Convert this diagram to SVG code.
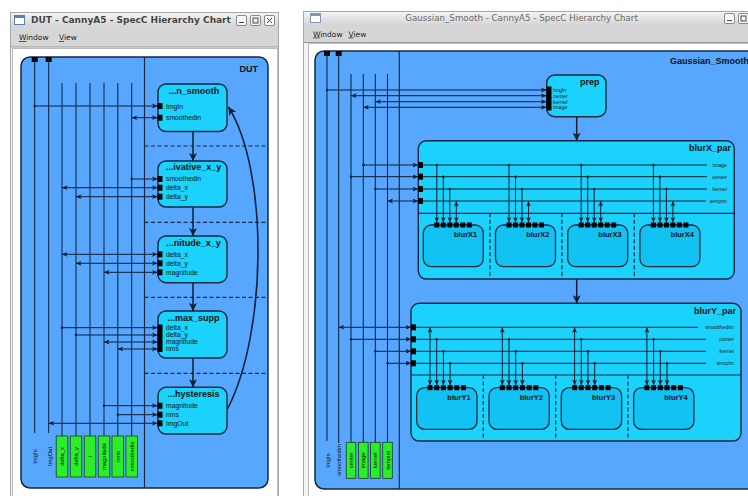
<svg xmlns="http://www.w3.org/2000/svg" width="748" height="496" viewBox="0 0 748 496">
<defs>
  <linearGradient id="tbar" x1="0" y1="0" x2="0" y2="1">
    <stop offset="0" stop-color="#f4f4f4"/>
    <stop offset="1" stop-color="#d4d4d4"/>
  </linearGradient>
  <marker id="ah" markerUnits="userSpaceOnUse" markerWidth="6" markerHeight="6" refX="5.5" refY="3" orient="auto-start-reverse">
    <path d="M0,0.6 L5.5,3 L0,5.4 L1.4,3 z" fill="#0e1e30"/>
  </marker>
  <marker id="dot" markerUnits="userSpaceOnUse" markerWidth="4" markerHeight="4" refX="2" refY="2">
    <circle cx="2" cy="2" r="1.2" fill="#0e1e30"/>
  </marker>
  <marker id="big" markerUnits="userSpaceOnUse" markerWidth="9" markerHeight="9" refX="8" refY="4.5" orient="auto">
    <path d="M0,0.5 L8,4.5 L0,8.5 L2,4.5 z" fill="#0e1e30"/>
  </marker>
</defs>
<style>
  .frame{fill:#f4f4f4;stroke:#a8a8a8}
  .menubar{fill:#d6d6d6}
  .content{fill:#ffffff;stroke:#bdbdbd}
  .btn{fill:#f8f8f8;stroke:#8a8a8a}
  .glyph{stroke:#444;stroke-width:1;fill:none}
  .ttlA{font-family:"DejaVu Sans",sans-serif;font-size:9px;font-weight:bold;fill:#454545}
  .ttlI{font-family:"DejaVu Sans",sans-serif;font-size:8.7px;fill:#6a6a6a}
  .menu{font-family:"DejaVu Sans",sans-serif;font-size:7.5px;fill:#222}
  .bh{fill:#57a6ff;stroke:#17283c;stroke-width:1.5}
  .bp{fill:#1ad2fb;stroke:#17283c;stroke-width:1.4}
  .bc{fill:#12c2f2;stroke:#17283c;stroke-width:1.3}
  .nm{font-family:"Liberation Sans",Arial,sans-serif;font-weight:bold;font-size:9px;fill:#111}
  .cn{font-family:"Liberation Sans",Arial,sans-serif;font-weight:bold;font-size:7.5px;fill:#111}
  .pl{font-family:"Liberation Sans",Arial,sans-serif;font-size:6.8px;fill:#111}
  .tl{font-family:"Liberation Sans",Arial,sans-serif;font-size:5.3px;fill:#222}
  .pt{fill:#000}
  .ln{stroke:#0e1e30;stroke-width:1;fill:none}
  .vline{stroke:#0e1e30;stroke-width:1;fill:none}
  .sep{stroke:#17283c;stroke-width:1.2;fill:none}
  .dash{stroke:#17283c;stroke-width:1.2;stroke-dasharray:4 2.5;fill:none}
  .flow{stroke:#0e1e30;stroke-width:1.5;fill:none;marker-end:url(#big)}
  .var{fill:#2aee2a;stroke:#1e3a1e;stroke-width:0.8}
  .vl{font-family:"Liberation Sans",Arial,sans-serif;font-size:5.8px;fill:#111}
  .ae{marker-end:url(#ah)}
  .as{marker-start:url(#ah)}
  .ds{marker-start:url(#dot)}
</style>

<!-- ===== Window 1: DUT hierarchy chart ===== -->
<g id="win-dut">
  <rect class="frame" x="10.5" y="12.5" width="268" height="484"/>
  <rect x="11" y="13" width="267" height="14" fill="url(#tbar)"/>
  <rect x="14.5" y="15.5" width="10" height="9" fill="#fff" stroke="#5b7fae"/>
  <rect x="14.5" y="15.5" width="10" height="2.5" fill="#5b7fae"/>
  <text class="ttlA" x="31" y="23">DUT - CannyA5 - SpecC Hierarchy Chart</text>
  <rect class="btn" x="236.5" y="15.5" width="10" height="10" rx="1.5"/>
  <line class="glyph" x1="239" y1="22.5" x2="244" y2="22.5"/>
  <rect class="btn" x="250.5" y="15.5" width="10" height="10" rx="1.5"/>
  <rect class="glyph" x="253" y="18" width="5" height="5"/>
  <rect class="btn" x="264.5" y="15.5" width="10" height="10" rx="1.5"/>
  <path class="glyph" d="M267,18 L272,23 M272,18 L267,23"/>
  <rect class="menubar" x="11" y="27" width="267" height="20"/>
  <line x1="11" y1="47" x2="278" y2="47" stroke="#9a9a9a"/>
  <text class="menu" x="19" y="40"><tspan text-decoration="underline">W</tspan>indow</text>
  <text class="menu" x="59" y="40"><tspan text-decoration="underline">V</tspan>iew</text>
  <rect class="content" x="12.5" y="48.5" width="265" height="448"/>
</g>

<g id="DUT">
  <rect class="bh" x="21" y="57" width="247" height="431" rx="9"/>
  <text class="nm" x="258" y="72" text-anchor="end" font-size="10">DUT</text>
  <line class="sep" x1="144.5" y1="57" x2="144.5" y2="488"/>
  <line class="dash" x1="144.5" y1="146" x2="268" y2="146"/>
  <line class="dash" x1="144.5" y1="222.3" x2="268" y2="222.3"/>
  <line class="dash" x1="144.5" y1="297.3" x2="268" y2="297.3"/>
  <line class="dash" x1="144.5" y1="373.3" x2="268" y2="373.3"/>
  <rect class="pt" x="31.7" y="57" width="6" height="5"/>
  <rect class="pt" x="45.7" y="57" width="6" height="5"/>
</g>

<!-- DUT variables -->
<g id="dut-vars">
  <line class="vline" x1="34.7" y1="57" x2="34.7" y2="433"/>
  <line class="vline" x1="48.7" y1="57" x2="48.7" y2="433"/>
  <line class="vline" x1="62" y1="83" x2="62" y2="436"/>
  <line class="vline" x1="76" y1="83" x2="76" y2="436"/>
  <line class="vline" x1="90" y1="83" x2="90" y2="436"/>
  <line class="vline" x1="104" y1="83" x2="104" y2="436"/>
  <line class="vline" x1="117.8" y1="83" x2="117.8" y2="436"/>
  <line class="vline" x1="131.7" y1="83" x2="131.7" y2="436"/>
  <text class="vl" transform="translate(35,456.5) rotate(-90)" text-anchor="middle" dominant-baseline="central">ImgIn</text>
  <text class="vl" transform="translate(49.5,456.5) rotate(-90)" text-anchor="middle" dominant-baseline="central">ImgOut</text>
  <g id="var-delta_x"><rect class="var" x="56.2" y="436" width="11.6" height="41"/>
    <text class="vl" transform="translate(62,456.5) rotate(-90)" text-anchor="middle" dominant-baseline="central">delta_x</text></g>
  <g id="var-delta_y"><rect class="var" x="70.2" y="436" width="11.6" height="41"/>
    <text class="vl" transform="translate(76,456.5) rotate(-90)" text-anchor="middle" dominant-baseline="central">delta_y</text></g>
  <g id="var-i"><rect class="var" x="84.2" y="436" width="11.6" height="41"/>
    <text class="vl" transform="translate(90,456.5) rotate(-90)" text-anchor="middle" dominant-baseline="central">i</text></g>
  <g id="var-magnitude"><rect class="var" x="98.2" y="436" width="11.6" height="41"/>
    <text class="vl" transform="translate(104,456.5) rotate(-90)" text-anchor="middle" dominant-baseline="central">magnitude</text></g>
  <g id="var-nms"><rect class="var" x="112" y="436" width="11.6" height="41"/>
    <text class="vl" transform="translate(117.8,456.5) rotate(-90)" text-anchor="middle" dominant-baseline="central">nms</text></g>
  <g id="var-smoothedin"><rect class="var" x="125.9" y="436" width="11.6" height="41"/>
    <text class="vl" transform="translate(131.7,456.5) rotate(-90)" text-anchor="middle" dominant-baseline="central">smoothedin</text></g>
</g>

<g id="gaussian_smooth">
  <rect class="bp" x="158" y="84" width="69" height="47.5" rx="8"/>
  <text class="nm" x="194" y="94" text-anchor="middle">...n_smooth</text>
  <rect class="pt" x="157.5" y="103" width="5" height="6"/>
  <rect class="pt" x="157.5" y="114.7" width="5" height="6"/>
  <text class="pl" x="166" y="108.5">ImgIn</text>
  <text class="pl" x="166" y="120.2">smoothedin</text>
</g>
<g id="derivative_x_y">
  <rect class="bp" x="158" y="161" width="69" height="46" rx="8"/>
  <text class="nm" x="193.5" y="170" text-anchor="middle">...ivative_x_y</text>
  <rect class="pt" x="157.5" y="176" width="5" height="6"/>
  <rect class="pt" x="157.5" y="184.7" width="5" height="6"/>
  <rect class="pt" x="157.5" y="193.7" width="5" height="6"/>
  <text class="pl" x="166" y="181.3">smoothedin</text>
  <text class="pl" x="166" y="190">delta_x</text>
  <text class="pl" x="166" y="199">delta_y</text>
</g>
<g id="magnitude_x_y">
  <rect class="bp" x="158" y="236" width="69" height="46.7" rx="8"/>
  <text class="nm" x="193.5" y="246" text-anchor="middle">...nitude_x_y</text>
  <rect class="pt" x="157.5" y="251.3" width="5" height="6"/>
  <rect class="pt" x="157.5" y="260.3" width="5" height="6"/>
  <rect class="pt" x="157.5" y="269.3" width="5" height="6"/>
  <text class="pl" x="166" y="256.6">delta_x</text>
  <text class="pl" x="166" y="265.6">delta_y</text>
  <text class="pl" x="166" y="274.6">magnitude</text>
</g>
<g id="non_max_supp">
  <rect class="bp" x="158" y="311" width="69" height="47" rx="8"/>
  <text class="nm" x="193.5" y="321" text-anchor="middle">...max_supp</text>
  <rect class="pt" x="157.5" y="324.5" width="5" height="27.5"/>
  <text class="pl" x="166" y="330">delta_x</text>
  <text class="pl" x="166" y="337.3">delta_y</text>
  <text class="pl" x="166" y="344.3">magnitude</text>
  <text class="pl" x="166" y="351.3">nms</text>
</g>
<g id="apply_hysteresis">
  <rect class="bp" x="158" y="387.3" width="69" height="46.7" rx="8"/>
  <text class="nm" x="193.5" y="397" text-anchor="middle">...hysteresis</text>
  <rect class="pt" x="157.5" y="402.7" width="5" height="6"/>
  <rect class="pt" x="157.5" y="411.7" width="5" height="6"/>
  <rect class="pt" x="157.5" y="420.3" width="5" height="6"/>
  <text class="pl" x="166" y="408">magnitude</text>
  <text class="pl" x="166" y="417">nms</text>
  <text class="pl" x="166" y="425.6">ImgOut</text>
</g>

<g id="dut-connectors">
  <line class="ln ds ae" x1="34.7" y1="106" x2="157.5" y2="106"/>
  <line class="ln as ae" x1="131.7" y1="117.7" x2="157.5" y2="117.7"/>
  <line class="ln ds ae" x1="131.7" y1="179" x2="157.5" y2="179"/>
  <line class="ln as ae" x1="62" y1="187.7" x2="157.5" y2="187.7"/>
  <line class="ln as ae" x1="76" y1="196.7" x2="157.5" y2="196.7"/>
  <line class="ln as ae" x1="62" y1="254.3" x2="157.5" y2="254.3"/>
  <line class="ln as ae" x1="76" y1="263.3" x2="157.5" y2="263.3"/>
  <line class="ln as ae" x1="104" y1="272.3" x2="157.5" y2="272.3"/>
  <line class="ln ds ae" x1="62" y1="327.7" x2="157.5" y2="327.7"/>
  <line class="ln ds ae" x1="76" y1="335" x2="157.5" y2="335"/>
  <line class="ln as ae" x1="104" y1="342" x2="157.5" y2="342"/>
  <line class="ln as ae" x1="117.8" y1="349" x2="157.5" y2="349"/>
  <line class="ln ds ae" x1="104" y1="405.7" x2="157.5" y2="405.7"/>
  <line class="ln ds ae" x1="117.8" y1="414.7" x2="157.5" y2="414.7"/>
  <line class="ln as ae" x1="48.7" y1="423.3" x2="157.5" y2="423.3"/>
  <line class="flow" x1="193" y1="131.5" x2="193" y2="161"/>
  <line class="flow" x1="193" y1="207" x2="193" y2="236"/>
  <line class="flow" x1="193" y1="282.7" x2="193" y2="311"/>
  <line class="flow" x1="193" y1="358" x2="193" y2="387.3"/>
  <path class="flow" d="M227.5,409 C268,330 268,170 228.5,107"/>
</g>

<!-- ===== Window 2: Gaussian_Smooth hierarchy chart ===== -->
<g id="win-gauss">
  <rect class="frame" x="303.5" y="11.5" width="450" height="490"/>
  <rect x="304" y="12" width="449" height="13" fill="url(#tbar)"/>
  <rect x="310.5" y="13.5" width="10" height="9" fill="#fff" stroke="#7f98b8"/>
  <rect x="310.5" y="13.5" width="10" height="2.5" fill="#7f98b8"/>
  <text class="ttlI" x="521.5" y="20.5" text-anchor="middle">Gaussian_Smooth - CannyA5 - SpecC Hierarchy Chart</text>
  <rect class="btn" x="724.5" y="13.5" width="10" height="10" rx="1.5"/>
  <line class="glyph" x1="727" y1="20.5" x2="732" y2="20.5"/>
  <rect class="btn" x="738.5" y="13.5" width="10" height="10" rx="1.5"/>
  <rect class="glyph" x="741" y="16" width="5" height="5"/>
  <rect class="menubar" x="304" y="25" width="449" height="17"/>
  <line x1="304" y1="42.5" x2="753" y2="42.5" stroke="#9a9a9a"/>
  <text class="menu" x="313" y="36.5"><tspan text-decoration="underline">W</tspan>indow</text>
  <text class="menu" x="348.5" y="36.5"><tspan text-decoration="underline">V</tspan>iew</text>
  <rect class="content" x="308.5" y="43.5" width="445" height="453"/>
</g>

<g id="Gaussian_Smooth">
  <rect class="bh" x="315" y="51" width="445" height="438" rx="9"/>
  <text class="nm" x="749" y="64" text-anchor="end" font-size="9.5">Gaussian_Smooth</text>
  <line class="sep" x1="399.3" y1="51" x2="399.3" y2="489"/>
  <rect class="pt" x="324" y="51" width="6" height="5"/>
  <rect class="pt" x="335.7" y="51" width="6" height="5"/>
</g>

<g id="gs-vars">
  <line class="vline" x1="327" y1="51" x2="327" y2="441"/>
  <line class="vline" x1="338.7" y1="51" x2="338.7" y2="443"/>
  <line class="vline" x1="351" y1="74" x2="351" y2="442.3"/>
  <line class="vline" x1="363.3" y1="74" x2="363.3" y2="442.3"/>
  <line class="vline" x1="375.3" y1="74" x2="375.3" y2="442.3"/>
  <line class="vline" x1="387.5" y1="74" x2="387.5" y2="442.3"/>
  <text class="vl" transform="translate(327.5,460.5) rotate(-90)" text-anchor="middle" dominant-baseline="central">ImgIn</text>
  <text class="vl" transform="translate(339,460) rotate(-90)" text-anchor="middle" dominant-baseline="central">smoothedim</text>
  <g id="var-center"><rect class="var" x="346.2" y="442.3" width="9.6" height="36"/>
    <text class="vl" transform="translate(351,460.3) rotate(-90)" text-anchor="middle" dominant-baseline="central">center</text></g>
  <g id="var-image"><rect class="var" x="358.5" y="442.3" width="9.6" height="36"/>
    <text class="vl" transform="translate(363.3,460.3) rotate(-90)" text-anchor="middle" dominant-baseline="central">image</text></g>
  <g id="var-kernel"><rect class="var" x="370.5" y="442.3" width="9.6" height="36"/>
    <text class="vl" transform="translate(375.3,460.3) rotate(-90)" text-anchor="middle" dominant-baseline="central">kernel</text></g>
  <g id="var-tempim"><rect class="var" x="382.7" y="442.3" width="9.6" height="36"/>
    <text class="vl" transform="translate(387.5,460.3) rotate(-90)" text-anchor="middle" dominant-baseline="central">tempim</text></g>
</g>

<g id="prep">
  <rect class="bp" x="546.7" y="75" width="59.3" height="41.7" rx="8"/>
  <text class="nm" x="599.5" y="84.5" text-anchor="end">prep</text>
  <rect class="pt" x="546.5" y="86.5" width="5" height="24"/>
  <text class="tl" x="553" y="91.8">ImgIn</text>
  <text class="tl" x="553" y="97.5">center</text>
  <text class="tl" x="553" y="103.5">kernel</text>
  <text class="tl" x="553" y="109.1">image</text>
</g>

<g id="blurX_par">
  <rect class="bp" x="418.3" y="140.7" width="316" height="138.3" rx="8"/>
  <text class="nm" x="731" y="151" text-anchor="end">blurX_par</text>
  <line class="sep" x1="418.3" y1="213.3" x2="734.3" y2="213.3"/>
  <line class="dash" x1="490" y1="213.3" x2="490" y2="279"/>
  <line class="dash" x1="561.9" y1="213.3" x2="561.9" y2="279"/>
  <line class="dash" x1="634.3" y1="213.3" x2="634.3" y2="279"/>
  <rect class="pt" x="418" y="162" width="5" height="6"/>
  <rect class="pt" x="418" y="173.7" width="5" height="6"/>
  <rect class="pt" x="418" y="186" width="5" height="6"/>
  <rect class="pt" x="418" y="198" width="5" height="6"/>
  <text class="tl" x="727" y="166.8" text-anchor="end">image</text>
  <text class="tl" x="727" y="178.5" text-anchor="end">center</text>
  <text class="tl" x="727" y="190.8" text-anchor="end">kernel</text>
  <text class="tl" x="727" y="202.8" text-anchor="end">tempim</text>
</g>
<g id="blurX1" transform="translate(423.3,225)">
  <rect class="bc" x="0" y="0" width="60" height="41.7" rx="8"/>
  <rect class="pt" x="11" y="-2.5" width="5" height="5"/><rect class="pt" x="17.5" y="-2.5" width="5" height="5"/>
  <rect class="pt" x="24" y="-2.5" width="5" height="5"/><rect class="pt" x="30.5" y="-2.5" width="5" height="5"/>
  <rect class="pt" x="37" y="-2.5" width="5" height="5"/><rect class="pt" x="43.5" y="-2.5" width="5" height="5"/>
  <text class="cn" x="54" y="12" text-anchor="end">blurX1</text>
</g>
<g id="blurX2" transform="translate(495.5,225)">
  <rect class="bc" x="0" y="0" width="60" height="41.7" rx="8"/>
  <rect class="pt" x="11" y="-2.5" width="5" height="5"/><rect class="pt" x="17.5" y="-2.5" width="5" height="5"/>
  <rect class="pt" x="24" y="-2.5" width="5" height="5"/><rect class="pt" x="30.5" y="-2.5" width="5" height="5"/>
  <rect class="pt" x="37" y="-2.5" width="5" height="5"/><rect class="pt" x="43.5" y="-2.5" width="5" height="5"/>
  <text class="cn" x="54" y="12" text-anchor="end">blurX2</text>
</g>
<g id="blurX3" transform="translate(567.7,225)">
  <rect class="bc" x="0" y="0" width="60" height="41.7" rx="8"/>
  <rect class="pt" x="11" y="-2.5" width="5" height="5"/><rect class="pt" x="17.5" y="-2.5" width="5" height="5"/>
  <rect class="pt" x="24" y="-2.5" width="5" height="5"/><rect class="pt" x="30.5" y="-2.5" width="5" height="5"/>
  <rect class="pt" x="37" y="-2.5" width="5" height="5"/><rect class="pt" x="43.5" y="-2.5" width="5" height="5"/>
  <text class="cn" x="54" y="12" text-anchor="end">blurX3</text>
</g>
<g id="blurX4" transform="translate(639.9,225)">
  <rect class="bc" x="0" y="0" width="60" height="41.7" rx="8"/>
  <rect class="pt" x="11" y="-2.5" width="5" height="5"/><rect class="pt" x="17.5" y="-2.5" width="5" height="5"/>
  <rect class="pt" x="24" y="-2.5" width="5" height="5"/><rect class="pt" x="30.5" y="-2.5" width="5" height="5"/>
  <rect class="pt" x="37" y="-2.5" width="5" height="5"/><rect class="pt" x="43.5" y="-2.5" width="5" height="5"/>
  <text class="cn" x="54" y="12" text-anchor="end">blurX4</text>
</g>

<g id="blurY_par">
  <rect class="bp" x="411" y="303.3" width="330" height="137.7" rx="8"/>
  <text class="nm" x="736" y="313.5" text-anchor="end">blurY_par</text>
  <line class="sep" x1="411" y1="375" x2="741" y2="375"/>
  <line class="dash" x1="483.3" y1="375" x2="483.3" y2="441"/>
  <line class="dash" x1="555.7" y1="375" x2="555.7" y2="441"/>
  <line class="dash" x1="627.9" y1="375" x2="627.9" y2="441"/>
  <rect class="pt" x="411" y="324.3" width="5" height="6"/>
  <rect class="pt" x="411" y="336.3" width="5" height="6"/>
  <rect class="pt" x="411" y="348.3" width="5" height="6"/>
  <rect class="pt" x="411" y="360.3" width="5" height="6"/>
  <text class="tl" x="734" y="329.1" text-anchor="end">smoothedim</text>
  <text class="tl" x="734" y="341.1" text-anchor="end">center</text>
  <text class="tl" x="734" y="353.1" text-anchor="end">kernel</text>
  <text class="tl" x="734" y="365.1" text-anchor="end">tempim</text>
</g>
<g id="blurY1" transform="translate(416.7,387.7)">
  <rect class="bc" x="0" y="0" width="60.3" height="41.6" rx="8"/>
  <rect class="pt" x="10.8" y="-2.5" width="5" height="5"/><rect class="pt" x="17.5" y="-2.5" width="5" height="5"/>
  <rect class="pt" x="24.2" y="-2.5" width="5" height="5"/><rect class="pt" x="30.9" y="-2.5" width="5" height="5"/>
  <rect class="pt" x="37.6" y="-2.5" width="5" height="5"/><rect class="pt" x="44.3" y="-2.5" width="5" height="5"/>
  <text class="cn" x="54" y="12.3" text-anchor="end">blurY1</text>
</g>
<g id="blurY2" transform="translate(489,387.7)">
  <rect class="bc" x="0" y="0" width="60.3" height="41.6" rx="8"/>
  <rect class="pt" x="10.8" y="-2.5" width="5" height="5"/><rect class="pt" x="17.5" y="-2.5" width="5" height="5"/>
  <rect class="pt" x="24.2" y="-2.5" width="5" height="5"/><rect class="pt" x="30.9" y="-2.5" width="5" height="5"/>
  <rect class="pt" x="37.6" y="-2.5" width="5" height="5"/><rect class="pt" x="44.3" y="-2.5" width="5" height="5"/>
  <text class="cn" x="54" y="12.3" text-anchor="end">blurY2</text>
</g>
<g id="blurY3" transform="translate(561.3,387.7)">
  <rect class="bc" x="0" y="0" width="60.3" height="41.6" rx="8"/>
  <rect class="pt" x="10.8" y="-2.5" width="5" height="5"/><rect class="pt" x="17.5" y="-2.5" width="5" height="5"/>
  <rect class="pt" x="24.2" y="-2.5" width="5" height="5"/><rect class="pt" x="30.9" y="-2.5" width="5" height="5"/>
  <rect class="pt" x="37.6" y="-2.5" width="5" height="5"/><rect class="pt" x="44.3" y="-2.5" width="5" height="5"/>
  <text class="cn" x="54" y="12.3" text-anchor="end">blurY3</text>
</g>
<g id="blurY4" transform="translate(633.6,387.7)">
  <rect class="bc" x="0" y="0" width="60.3" height="41.6" rx="8"/>
  <rect class="pt" x="10.8" y="-2.5" width="5" height="5"/><rect class="pt" x="17.5" y="-2.5" width="5" height="5"/>
  <rect class="pt" x="24.2" y="-2.5" width="5" height="5"/><rect class="pt" x="30.9" y="-2.5" width="5" height="5"/>
  <rect class="pt" x="37.6" y="-2.5" width="5" height="5"/><rect class="pt" x="44.3" y="-2.5" width="5" height="5"/>
  <text class="cn" x="54" y="12.3" text-anchor="end">blurY4</text>
</g>

<g id="gs-connectors">
  <!-- into prep -->
  <line class="ln ds ae" x1="327" y1="90" x2="546.5" y2="90"/>
  <line class="ln as ae" x1="351" y1="95.7" x2="546.5" y2="95.7"/>
  <line class="ln as ae" x1="375.3" y1="101.7" x2="546.5" y2="101.7"/>
  <line class="ln as ae" x1="363.3" y1="107.3" x2="546.5" y2="107.3"/>
  <line class="flow" x1="576.7" y1="116.7" x2="576.7" y2="140.7"/>
  <!-- into blurX_par -->
  <line class="ln ds ae" x1="363.3" y1="165" x2="418" y2="165"/>
  <line class="ln ds ae" x1="351" y1="176.7" x2="418" y2="176.7"/>
  <line class="ln ds ae" x1="375.3" y1="189" x2="418" y2="189"/>
  <line class="ln as ae" x1="387.5" y1="201" x2="418" y2="201"/>
  <line class="ln" x1="423" y1="165" x2="707" y2="165"/>
  <line class="ln" x1="423" y1="176.7" x2="707" y2="176.7"/>
  <line class="ln" x1="423" y1="189" x2="707" y2="189"/>
  <line class="ln" x1="423" y1="201" x2="706" y2="201"/>
  <!-- blurX_par to children -->
  <line class="ln ds ae" x1="436.8" y1="165" x2="436.8" y2="222.5"/>
  <line class="ln ds ae" x1="443.3" y1="176.7" x2="443.3" y2="222.5"/>
  <line class="ln ds ae" x1="449.8" y1="189" x2="449.8" y2="222.5"/>
  <line class="ln as ae" x1="456.3" y1="201" x2="456.3" y2="222.5"/>
  <line class="ln ds ae" x1="509" y1="165" x2="509" y2="222.5"/>
  <line class="ln ds ae" x1="515.5" y1="176.7" x2="515.5" y2="222.5"/>
  <line class="ln ds ae" x1="522" y1="189" x2="522" y2="222.5"/>
  <line class="ln as ae" x1="528.5" y1="201" x2="528.5" y2="222.5"/>
  <line class="ln ds ae" x1="581.2" y1="165" x2="581.2" y2="222.5"/>
  <line class="ln ds ae" x1="587.7" y1="176.7" x2="587.7" y2="222.5"/>
  <line class="ln ds ae" x1="594.2" y1="189" x2="594.2" y2="222.5"/>
  <line class="ln as ae" x1="600.7" y1="201" x2="600.7" y2="222.5"/>
  <line class="ln ds ae" x1="653.4" y1="165" x2="653.4" y2="222.5"/>
  <line class="ln ds ae" x1="659.9" y1="176.7" x2="659.9" y2="222.5"/>
  <line class="ln ds ae" x1="666.4" y1="189" x2="666.4" y2="222.5"/>
  <line class="ln as ae" x1="672.9" y1="201" x2="672.9" y2="222.5"/>
  <line class="flow" x1="576.7" y1="279" x2="576.7" y2="303.3"/>
  <!-- into blurY_par -->
  <line class="ln as ae" x1="338.7" y1="327.3" x2="411" y2="327.3"/>
  <line class="ln ds ae" x1="351" y1="339.3" x2="411" y2="339.3"/>
  <line class="ln ds ae" x1="375.3" y1="351.3" x2="411" y2="351.3"/>
  <line class="ln ds ae" x1="387.5" y1="363.3" x2="411" y2="363.3"/>
  <line class="ln" x1="416" y1="327.3" x2="698" y2="327.3"/>
  <line class="ln" x1="416" y1="339.3" x2="706" y2="339.3"/>
  <line class="ln" x1="416" y1="351.3" x2="706" y2="351.3"/>
  <line class="ln" x1="416" y1="363.3" x2="706" y2="363.3"/>
  <!-- blurY_par to children -->
  <line class="ln as ae" x1="430" y1="327.3" x2="430" y2="385.2"/>
  <line class="ln ds ae" x1="436.7" y1="339.3" x2="436.7" y2="385.2"/>
  <line class="ln ds ae" x1="443.4" y1="351.3" x2="443.4" y2="385.2"/>
  <line class="ln ds ae" x1="450.1" y1="363.3" x2="450.1" y2="385.2"/>
  <line class="ln as ae" x1="502.3" y1="327.3" x2="502.3" y2="385.2"/>
  <line class="ln ds ae" x1="509" y1="339.3" x2="509" y2="385.2"/>
  <line class="ln ds ae" x1="515.7" y1="351.3" x2="515.7" y2="385.2"/>
  <line class="ln ds ae" x1="522.4" y1="363.3" x2="522.4" y2="385.2"/>
  <line class="ln as ae" x1="574.6" y1="327.3" x2="574.6" y2="385.2"/>
  <line class="ln ds ae" x1="581.3" y1="339.3" x2="581.3" y2="385.2"/>
  <line class="ln ds ae" x1="588" y1="351.3" x2="588" y2="385.2"/>
  <line class="ln ds ae" x1="594.7" y1="363.3" x2="594.7" y2="385.2"/>
  <line class="ln as ae" x1="646.9" y1="327.3" x2="646.9" y2="385.2"/>
  <line class="ln ds ae" x1="653.6" y1="339.3" x2="653.6" y2="385.2"/>
  <line class="ln ds ae" x1="660.3" y1="351.3" x2="660.3" y2="385.2"/>
  <line class="ln ds ae" x1="667" y1="363.3" x2="667" y2="385.2"/>
</g>
</svg>
